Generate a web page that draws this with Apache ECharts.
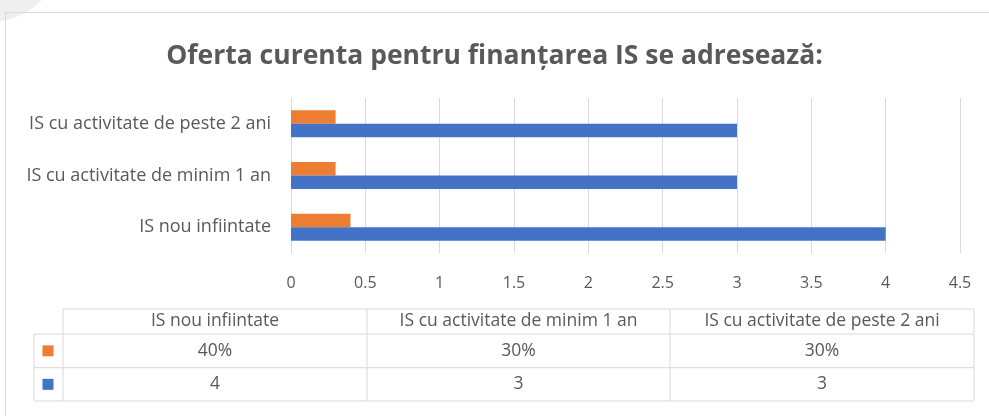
<html>
  <head>
    <meta charset="utf-8" />
    <title>Oferta curenta</title>
    <script type="text/javascript" src="https://cdn.jsdelivr.net/npm/echarts@6/dist/echarts.min.js"></script>
  </head>
  <body style="margin:0;background:#fff;">
      <div id="main" style="width:989px;height:416px;"></div>
      <script type="text/javascript">
        // date
        var categories = ['IS nou infiintate', 'IS cu activitate de minim 1 an', 'IS cu activitate de peste 2 ani'];
        var orangeValues = [0.4, 0.3, 0.3];
        var blueValues = [4, 3, 3];
        var xTicks = [0, 0.5, 1, 1.5, 2, 2.5, 3, 3.5, 4, 4.5];

        var font = 'Open Sans';
        var gray = '#595959';
        var line = '#d9d9d9';
        var orange = '#ed7d31';
        var blue = '#4472c4';

        window.onload = function () {
            var myChart = echarts.init(document.getElementById('main'));

            // tabel de date sub grafic
            var colX = [63, 367, 670, 974];
            var rowY = [309, 334, 367.7, 401];
            var tbl = [];
            tbl.push({ type: 'line', shape: { x1: 63, y1: 309, x2: 974, y2: 309 }, style: { stroke: line, lineWidth: 1 } });
            for (var r = 1; r < rowY.length; r++) {
                tbl.push({ type: 'line', shape: { x1: 34, y1: rowY[r], x2: 974, y2: rowY[r] }, style: { stroke: line, lineWidth: 1 } });
            }
            tbl.push({ type: 'line', shape: { x1: 34, y1: rowY[1], x2: 34, y2: rowY[3] }, style: { stroke: line, lineWidth: 1 } });
            colX.forEach(function (x) {
                tbl.push({ type: 'line', shape: { x1: x, y1: 309, x2: x, y2: rowY[3] }, style: { stroke: line, lineWidth: 1 } });
            });
            var rows = [
                orangeValues.map(function (v) { return Math.round(v * 100) + '%'; }),
                blueValues.map(function (v) { return String(v); })
            ];
            var colors = [orange, blue];
            var tf = '17.5px "' + font + '"';
            categories.forEach(function (c, i) {
                var cx = (colX[i] + colX[i + 1]) / 2;
                tbl.push({ type: 'text', x: cx, y: (rowY[0] + rowY[1]) / 2,
                    style: { text: c, fill: gray, font: tf, align: 'center', verticalAlign: 'middle' } });
                rows.forEach(function (row, j) {
                    tbl.push({ type: 'text', x: cx, y: (rowY[j + 1] + rowY[j + 2]) / 2,
                        style: { text: row[i], fill: gray, font: tf, align: 'center', verticalAlign: 'middle' } });
                });
            });
            colors.forEach(function (col, j) {
                var cy = (rowY[j + 1] + rowY[j + 2]) / 2;
                tbl.push({ type: 'rect', shape: { x: 42.5, y: cy - 5.5, width: 11, height: 11 }, style: { fill: col } });
            });

            var option = {
                animation: false,
                backgroundColor: '#fff',
                title: {
                    text: 'Oferta curenta pentru finanțarea IS se adresează:',
                    left: 'center',
                    top: 38,
                    textStyle: { color: gray, fontFamily: font, fontSize: 26.5, fontWeight: 'bold' }
                },
                grid: { left: 291, right: 29, top: 98, bottom: 163 },
                xAxis: {
                    type: 'value',
                    min: xTicks[0],
                    max: xTicks[xTicks.length - 1],
                    interval: 0.5,
                    axisLine: { show: false },
                    axisTick: { show: false },
                    splitLine: { lineStyle: { color: line, width: 1 } },
                    axisLabel: { color: gray, fontFamily: font, fontSize: 16, margin: 22 }
                },
                yAxis: {
                    type: 'category',
                    data: categories,
                    axisLine: { lineStyle: { color: line } },
                    axisTick: { show: false },
                    axisLabel: { color: gray, fontFamily: font, fontSize: 18, margin: 20 }
                },
                series: [
                    {
                        name: 'procent',
                        type: 'bar',
                        data: orangeValues,
                        barWidth: 13.5,
                        barGap: '0%',
                        itemStyle: { color: orange }
                    },
                    {
                        name: 'valoare',
                        type: 'bar',
                        data: blueValues,
                        barWidth: 13.5,
                        barGap: '0%',
                        itemStyle: { color: blue }
                    }
                ],
                graphic: [
                    { type: 'circle', shape: { cx: -10, cy: -50, r: 72 }, style: { fill: '#efefef' }, z: -10 },
                    { type: 'rect', shape: { x: 5.5, y: 12.5, width: 1000, height: 430 }, style: { fill: 'none', stroke: line, lineWidth: 1 }, z: -5 },
                    { type: 'group', children: tbl }
                ]
            };
            myChart.setOption(option);
        };
      </script>
  </body>
</html>
